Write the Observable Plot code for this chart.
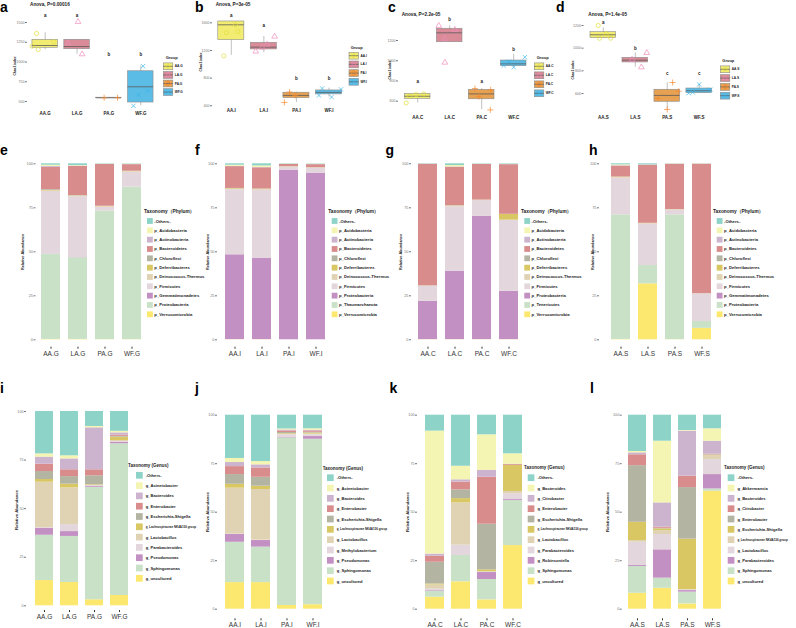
<!DOCTYPE html>
<html><head><meta charset="utf-8">
<script src="https://cdn.jsdelivr.net/npm/d3@7"></script>
<script src="https://cdn.jsdelivr.net/npm/@observablehq/plot@0.6"></script>
<style>
body{margin:0;background:#fff;}
#wrap{position:relative;width:796px;height:628px;overflow:hidden;background:#fff;}
#wrap svg{position:absolute;left:0;top:0;}
</style></head><body><div id="wrap"></div>
<script>
// ================= DATA =================
// --- a-d: Chao1 index boxplots: [low whisker, Q1, median, Q3, high whisker]
const grpA = ["AA.G","LA.G","PA.G","WF.G"];
const boxA = [[1158,1180,1209,1281,1370],[1099,1162,1196,1281,1281],[545,546,547,548,549],[445,487,686,883,947]];
const ptsA = [[1,-0.27,1361],[1,0.27,1255],[1,-0.22,1158],[1,-0.41,1200],[2,0.03,1509],[2,-0.28,1238],[2,0.16,1099],[3,-0.15,547],[3,0.27,547],[4,0.07,947],[4,0.21,635],[4,-0.07,585],[4,-0.23,445]];
const letA = ["a","a","b","b"];
const letYA = [1585,1585,1091,1091];
const ticksA = [500,750,1000,1250,1500];

const grpB = ["AA.I","LA.I","PA.I","WF.I"];
const boxB = [[1128,1349,1571,1619,1619],[1167,1215,1248,1311,1402],[449,511,550,589,598],[526,565,594,622,656]];
const ptsB = [[1,0.13,1571],[1,-0.15,1456],[1,0.2,1474],[1,-0.23,1123],[2,0.33,1402],[2,0.1,1287],[2,-0.25,1186],[2,-0.05,1243],[3,-0.21,598],[3,-0.37,449],[3,-0.04,550],[4,-0.21,651],[4,0.37,637],[4,-0.31,550],[4,0.08,526]];
const letB = ["a","a","b","b"];
const letYB = [1705,1561,796,796];
const ticksB = [400,800,1200,1600];

const grpC = ["AA.C","LA.C","PA.C","WF.C"];
const boxC = [[583,623,649,672,672],[1183,1183,1276,1316,1346],[517,619,672,712,725],[936,946,969,1002,1061]];
const ptsC = [[1,-0.36,583],[1,-0.25,649],[1,0.19,672],[1,-0.05,665],[2,-0.34,1346],[2,0.16,1306],[2,-0.16,1217],[2,-0.15,982],[3,-0.21,725],[3,0.28,712],[3,-0.09,646],[3,0.27,514],[4,0.35,1035],[4,-0.31,953],[4,0,936],[4,-0.15,992]];
const letC = ["a","b","a","b"];
const letYC = [797,1408,797,1108];
const ticksC = [600,800,1000,1200];

const grpD = ["AA.S","LA.S","PA.S","WF.S"];
const boxD = [[1088,1088,1118,1141,1180],[832,874,894,915,959],[462,527,583,633,695],[603,603,624,644,680]];
const ptsD = [[1,-0.16,1200],[1,0.09,1127],[1,-0.12,1088],[1,0.23,1088],[2,0.36,959],[2,0.19,832],[2,-0.1,900],[3,0.17,697],[3,0.36,620],[3,-0.29,556],[3,0,459],[4,0,680],[4,-0.33,603],[4,0.35,633],[4,-0.2,610]];
const letD = ["a","b","c","c"];
const letYD = [1224,1000,774,774];
const ticksD = [600,800,1000,1200];

const anovaTitles = ["Anova,  P=0.00016","Anova,  P=3e-05","Anova,  P=2.2e-05","Anova,  P=1.4e-05"];

// --- e-h: phylum relative abundance (%), values listed in legend order
const taxE = ["-Others-","p_Acidobacteria","p_Actinobacteria","p_Bacteroidetes","p_Chloroflexi","p_Deferribacteres","p_Deinococcus-Thermus","p_Firmicutes","p_Gemmatimonadetes","p_Proteobacteria","p_Verrucomicrobia"];
const valE = [[0.8,0.7,0.5,12.7,0.4,0.3,0.3,35.5,0.1,48.5,0.2],[1.0,0.3,0.2,16.5,0.2,0.2,0.3,34.6,0.1,46.4,0.2],[0.2,0.1,0.1,23.7,0.1,0.2,0.3,2.2,0,73,0.1],[0.2,0.2,0.1,3.7,0.1,0.2,0.3,8.5,0,86.6,0.1]];
const taxF = ["-Others-","p_Acidobacteria","p_Actinobacteria","p_Bacteroidetes","p_Chloroflexi","p_Deferribacteres","p_Deinococcus-Thermus","p_Firmicutes","p_Proteobacteria","p_Thaumarchaeota","p_Verrucomicrobia"];
const valF = [[0.8,0.6,0.2,12.4,0.1,0.3,0.3,37,48.2,0,0.1],[1.2,0.9,0.2,12,0.1,0.3,0.3,38.6,46.3,0,0.1],[0.2,0.1,0.1,1.2,0,0.1,0.2,1.9,96.2,0,0],[0.2,0.2,0.1,1.7,0,0.1,0.1,2.9,94.7,0,0]];
const taxG = ["-Others-","p_Acidobacteria","p_Actinobacteria","p_Bacteroidetes","p_Chloroflexi","p_Deferribacteres","p_Deinococcus-Thermus","p_Firmicutes","p_Proteobacteria","p_Tenericutes","p_Verrucomicrobia"];
const valG = [[0.2,0,0.1,69,0.1,0.1,0.1,8.5,21.8,0,0.1],[1.0,0.8,0.1,21.9,0.1,0.2,0.3,36.6,38.9,0,0.1],[0.2,0.1,0.1,20.2,0,0.1,0.2,9,70,0,0.1],[0.3,0.1,0.1,28.2,0.1,3.2,0.2,40.2,27.5,0,0.1]];
const taxH = ["-Others-","p_Acidobacteria","p_Actinobacteria","p_Bacteroidetes","p_Chloroflexi","p_Deferribacteres","p_Deinococcus-Thermus","p_Firmicutes","p_Gemmatimonadetes","p_Proteobacteria","p_Verrucomicrobia"];
const valH = [[0.6,0.5,0.2,6.2,0.1,0.3,0.3,20.8,0,70.8,0.2],[0.6,0.1,0.1,33,0.1,0.1,0.3,23.5,0,10.4,31.8],[0.1,0.1,0.1,25.7,0,0.1,0.2,2.7,0,70.9,0.1],[0.1,0.1,0,73.6,0,0,0.1,15.7,0,3.9,6.5]];

// --- i-l: genus relative abundance (%), values listed in legend order
const taxI = ["-Others-","g_Acinetobacter","g_Bacteroides","g_Enterobacter","g_Escherichia-Shigella","g_Lachnospiraceae NK4A136 group","g_Lactobacillus","g_Parabacteroides","g_Pseudomonas","g_Sphingomonas","g_uncultured"];
const valI = [[21.8,1.7,3.6,3.8,4.1,1.4,23.4,0.3,3.6,23.3,13.0],[22.8,1.6,5.6,3.5,3.9,1.9,18.9,3.6,2.5,23.7,12.0],[7.7,0.7,21.6,3.1,4.6,0.3,0.2,0.3,0.5,57.9,3.1],[10.2,0.8,1.2,0.6,0.4,1.8,0.5,0.3,0.8,78.1,5.3]];
const taxJ = ["-Others-","g_Acinetobacter","g_Bacteroides","g_Enterobacter","g_Escherichia-Shigella","g_Lachnospiraceae NK4A136 group","g_Lactobacillus","g_Methylobacterium","g_Pseudomonas","g_Sphingomonas","g_uncultured"];
const valJ = [[22.3,2.1,2.1,4.1,5.0,2.0,23.7,0.2,4.0,20.8,13.7],[23.9,1.7,1.6,4.8,4.6,1.7,26.1,0.2,3.4,18.3,13.7],[7.1,0.5,0.5,0.8,0.6,0.3,0.3,1.3,0.3,86.4,1.9],[7.0,0.7,0.4,0.7,0.4,0.5,0.4,0.9,1.4,85.3,2.3]];
const taxK = ["-Others-","g_Bacteroides","g_Citrobacter","g_Enterobacter","g_Escherichia-Shigella","g_Lachnospiraceae NK4A136 group","g_Lactobacillus","g_Parabacteroides","g_Robinsoniella","g_Sphingomonas","g_uncultured"];
const valK = [[8.2,63.4,1.1,3.1,11.2,0.5,2.2,0.7,0.3,3.1,6.2],[26.3,7.0,1.2,4.0,4.5,2.2,21.8,5.1,0.2,13.6,14.1],[10.1,18.3,3.6,24.2,23.5,1.0,0.2,0.2,3.6,10.5,4.8],[19.9,5.4,0.1,0.4,0.1,13.4,1.2,3.0,0.5,23.2,32.8]];
const taxL = ["-Others-","g_Akkermansia","g_Bacteroides","g_Citrobacter","g_Enterobacter","g_Escherichia-Shigella","g_Lachnospiraceae NK4A136 group","g_Lactobacillus","g_Parabacteroides","g_Sphingomonas","g_uncultured"];
const valL = [[18.7,0.7,1.0,5.6,29.2,9.4,0.9,12.0,0.5,13.8,8.2],[13.4,31.8,12.5,0.6,0.3,0.9,2.0,7.9,14.6,5.2,10.8],[7.9,0.3,23.2,5.9,26.6,26.0,0.2,0.3,0.8,6.1,2.7],[7.0,6.4,6.7,0.3,0.2,0.2,2.1,7.7,7.4,1.2,60.8]];

const pctTicks = [0,25,50,75,100];

// ================= STYLE =================
const pal = ["#8dd3c7","#f5f5b3","#ccb4cf","#d98c8c","#b4b4a2","#d8c762","#e0d3b4","#e3d6dc","#c390c4","#c9e2c7","#fde86f"];
const boxFill = ["#f2ed72","#d98c97","#e6a152","#5bbce6"];
const ptCol = ["#e3dc3a","#f08cbc","#f5872b","#38b5ea"];
const symbols = ["circle","triangle","plus","times"];
const FONT = '"Liberation Sans", Arial, Helvetica, "Noto Sans CJK SC", sans-serif';
const W = 796, H = 628;
const wrap = document.getElementById("wrap");

function addPlot(opts) {
  const svg = Plot.plot({width: W, height: H, marginTop: 0, marginRight: 0,
    style: {background: "transparent", fontFamily: FONT, overflow: "visible"}, ...opts});
  svg.style.position = "absolute"; svg.style.left = "0px"; svg.style.top = "0px";
  wrap.appendChild(svg);
}

function boxPanel(groups, box, pts, letters, letY, ticks, xr, yd, yr, fl, fb) {
  const bx = box.map((b, i) => ({i: i + 1, lo: b[0], q1: b[1], med: b[2], q3: b[3], hi: b[4], f: boxFill[i]}));
  const pp = pts.map(p => ({x: p[0] + p[1], v: p[2], g: groups[p[0] - 1], c: ptCol[p[0] - 1]}));
  const lt = letters.map((t, i) => ({i: i + 1, t, v: letY[i]}));
  addPlot({
    marginLeft: fl, marginBottom: H - fb,
    x: {domain: [1, 4], range: xr},
    y: {domain: yd, range: yr},
    color: {type: "identity"},
    symbol: {domain: groups, range: symbols},
    marks: [
      Plot.ruleX(bx, {x: "i", y1: "lo", y2: "hi", stroke: "#a5a5a5", strokeWidth: 0.7}),
      Plot.rect(bx, {x1: d => d.i - 0.4, x2: d => d.i + 0.4, y1: "q1", y2: "q3", fill: "f", stroke: "#8c8c8c", strokeWidth: 0.6}),
      Plot.ruleY(bx, {x1: d => d.i - 0.4, x2: d => d.i + 0.4, y: "med", stroke: "#5a5a5a", strokeWidth: 0.8}),
      Plot.dot(pp, {x: "x", y: "v", symbol: "g", stroke: "c", fill: "none", r: 2.1, strokeWidth: 0.7}),
      Plot.text(lt, {x: "i", y: "v", text: "t", fontSize: 4.5, fontWeight: "bold", fill: "#222"}),
      Plot.axisY({ticks, tickFormat: "d", tickSize: 2, tickPadding: 1, fontSize: 3.6, label: null, color: "#777"}),
      Plot.axisX({ticks: [1, 2, 3, 4], tickFormat: i => groups[i - 1], tickSize: 0, tickPadding: 2, fontSize: 4.5, fontWeight: "bold", label: null, color: "#222"})
    ]
  });
}

function stackPanel(samples, taxa, vals, xr, pad, yr, fl, fb, xFont, yFont) {
  const data = [];
  samples.forEach((s, si) => {
    for (let k = taxa.length - 1; k >= 0; k--) data.push({s, k, t: taxa[k], v: vals[si][k], c: pal[k]});
  });
  addPlot({
    marginLeft: fl, marginBottom: H - fb,
    x: {type: "band", domain: samples, range: xr, paddingInner: pad, paddingOuter: pad / 2},
    y: {domain: [0, 100], range: yr},
    color: {type: "identity"},
    marks: [
      Plot.barY(data, {x: "s", y: "v", fill: "c", order: null}),
      Plot.axisY({ticks: pctTicks, tickFormat: "d", tickSize: 2, tickPadding: 1, fontSize: yFont, label: null, color: "#777"}),
      Plot.axisX({tickSize: 2, tickPadding: 2, fontSize: xFont, label: null, color: "#333"})
    ]
  });
}

// ---- top row: boxplots
boxPanel(grpA, boxA, ptsA, letA, letYA, ticksA, [44.7, 140.3], [500, 1500], [101, 22], 27, 109.7);
boxPanel(grpB, boxB, ptsB, letB, letYB, ticksB, [230.8, 328.5], [400, 1600], [105.3, 22.3], 212, 106.3);
boxPanel(grpC, boxC, ptsC, letC, letYC, ticksC, [417.2, 513.2], [600, 1200], [100.7, 40], 398, 113.3);
boxPanel(grpD, boxD, ptsD, letD, letYD, ticksD, [602.8, 698.7], [600, 1200], [93, 25], 583.5, 113.7);

// ---- middle row: phylum
stackPanel(grpA, taxE, valE, [36.6, 146], 0.286, [339.3, 163.3], 35.5, 346.7, 6.5, 3.9);
stackPanel(grpB, taxF, valF, [221.1, 330], 0.286, [339.3, 163.3], 217, 346.7, 6.5, 3.9);
stackPanel(grpC, taxG, valG, [413.6, 523], 0.286, [339.3, 163.3], 411, 346.7, 6.5, 3.9);
stackPanel(grpD, taxH, valH, [606, 715.5], 0.286, [339.3, 163.3], 599, 346.7, 6.5, 3.9);

// ---- bottom row: genus
stackPanel(grpA, taxI, valI, [29.8, 133.7], 0.27, [605.3, 411], 26, 610, 6.5, 3.7);
stackPanel(grpB, taxJ, valJ, [221, 325], 0.27, [608.7, 414.7], 217, 618.3, 6.5, 3.7);
stackPanel(grpC, taxK, valK, [421, 525.2], 0.27, [608.7, 414.7], 417, 618.3, 6.5, 3.7);
stackPanel(grpD, taxL, valL, [622.6, 725.9], 0.27, [608.7, 414.7], 621.7, 618.3, 6.5, 3.7);

// ================= ANNOTATIONS / LEGENDS =================
const ov = d3.select(wrap).append("svg").attr("width", W).attr("height", H)
  .style("position", "absolute").style("left", "0px").style("top", "0px")
  .style("font-family", FONT).style("overflow", "visible");

function txt(x, y, s, size, o = {}) {
  const t = ov.append("text").attr("x", x).attr("y", y).attr("font-size", size)
    .attr("fill", o.fill || "#1a1a1a").text(s);
  if (o.weight) t.attr("font-weight", o.weight);
  if (o.anchor) t.attr("text-anchor", o.anchor);
  if (o.mid) t.attr("dominant-baseline", "central");
  if (o.rotate) t.attr("transform", `rotate(-90,${x},${y})`);
  return t;
}

// panel letters
const panelLetters = [["a",0,11.7],["b",195,11.7],["c",388,11.7],["d",556,11.7],
  ["e",0,155],["f",195,155],["g",385.5,155],["h",589,155],
  ["i",0,393.3],["j",195,393.3],["k",389.5,393.3],["l",590,393.3]];
panelLetters.forEach(([s, x, y]) => txt(x, y, s, 14, {weight: "bold", fill: "#000"}));

// anova titles
[[30, 5.5], [215.7, 5.5], [401.7, 15.5], [588.3, 15.5]].forEach(([x, y], i) =>
  txt(x, y, anovaTitles[i], 4.7, {weight: "bold"}));

// y axis titles
[[14.7, 66], [201, 62], [390, 70], [572.5, 70]].forEach(([x, y]) =>
  txt(x, y, "Chao1 index", 3.2, {weight: "bold", anchor: "middle", mid: true, rotate: true}));
[[22.7, 252], [207.7, 252], [400.5, 252], [592.5, 252]].forEach(([x, y]) =>
  txt(x, y, "Relative Abundance", 3.8, {weight: "bold", anchor: "middle", mid: true, rotate: true}));
[[16, 510], [207, 512], [407, 512], [607, 512]].forEach(([x, y]) =>
  txt(x, y, "Relative Abundance", 4.2, {weight: "bold", anchor: "middle", mid: true, rotate: true}));

// group legends (boxplots)
function groupLegend(groups, tx, ty, kx, ky0, step) {
  txt(tx, ty, "Group", 4, {weight: "bold", mid: true});
  groups.forEach((g, i) => {
    const cy = ky0 + i * step;
    ov.append("rect").attr("x", kx).attr("y", cy - 3.4).attr("width", 9.5).attr("height", 6.8)
      .attr("fill", boxFill[i]).attr("stroke", "#8c8c8c").attr("stroke-width", 0.6);
    ov.append("line").attr("x1", kx).attr("x2", kx + 9.5).attr("y1", cy).attr("y2", cy)
      .attr("stroke", "#5a5a5a").attr("stroke-width", 0.7);
    const sym = [d3.symbolCircle, d3.symbolTriangle, d3.symbolCross, d3.symbolX][i];
    ov.append("path").attr("d", d3.symbol(sym, i < 2 ? 10 : 14)())
      .attr("transform", `translate(${kx + 4.75},${cy})`)
      .attr("fill", "none").attr("stroke", ptCol[i]).attr("stroke-width", 0.6);
    txt(kx + 11.5, cy, g, 3.2, {weight: "bold", mid: true});
  });
}
groupLegend(grpA, 165.7, 57, 163.3, 66.3, 8.6);
groupLegend(grpB, 350.7, 47.3, 349, 55.7, 8.7);
groupLegend(grpC, 536.7, 57.3, 534.3, 66.3, 9);
groupLegend(grpD, 722.3, 60.7, 720.3, 69.3, 8.8);

// taxonomy legends
function taxLegend(taxa, title, tx, ty, kx, ky0, step, size, titleSize, itemSize, tdx) {
  txt(tx, ty, title, titleSize, {weight: "bold", mid: true});
  taxa.forEach((t, k) => {
    const cy = ky0 + k * step;
    ov.append("rect").attr("x", kx).attr("y", cy - size / 2).attr("width", size).attr("height", size).attr("fill", pal[k]);
    const small = t.startsWith("g_Lachnospiraceae");
    txt(kx + tdx, cy, t, small ? itemSize * 0.72 : itemSize, {weight: "bold", mid: true, fill: "#222"});
  });
}
taxLegend(taxE, "Taxonomy（Phylum）", 144, 211.7, 147, 221, 9.33, 5.8, 4.8, 4.2, 7.3);
taxLegend(taxF, "Taxonomy（Phylum）", 328.3, 211.3, 331.7, 221, 9.33, 5.8, 4.8, 4.2, 7.3);
taxLegend(taxG, "Taxonomy（Phylum）", 521, 211.7, 524.3, 221, 9.33, 5.8, 4.8, 4.2, 7.3);
taxLegend(taxH, "Taxonomy（Phylum）", 713, 211.7, 716.7, 221, 9.33, 5.8, 4.8, 4.2, 7.3);
taxLegend(taxI, "Taxonomy (Genus)", 128, 465, 136, 475.3, 10.3, 6.7, 4.5, 4.1, 9.7);
taxLegend(taxJ, "Taxonomy (Genus)", 322.7, 468, 327, 477.7, 10.33, 6.7, 4.5, 4.1, 9.7);
taxLegend(taxK, "Taxonomy (Genus)", 524, 467.7, 527.7, 477.7, 10.33, 6.7, 4.5, 4.1, 9.7);
taxLegend(taxL, "Taxonomy (Genus)", 724, 467.7, 727.7, 477.7, 10.33, 6.7, 4.5, 4.1, 9.7);
</script>
</body></html>
